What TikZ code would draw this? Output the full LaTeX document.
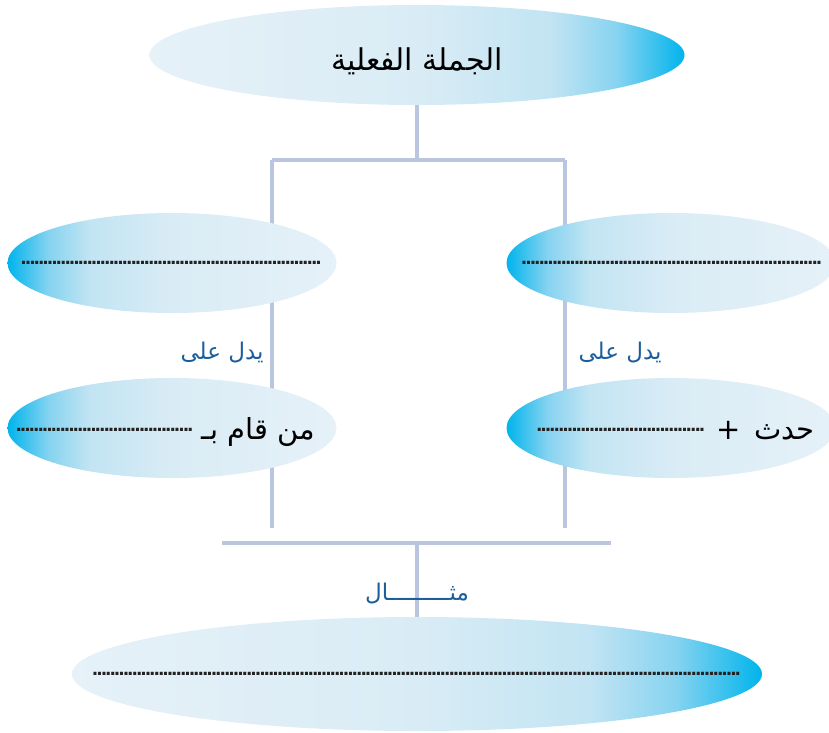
\documentclass[tikz,border=0pt]{standalone}
\usepackage{fontspec}
\usetikzlibrary{shapes.geometric,backgrounds}
\TeXXeTstate=1
\newfontfamily\arabicfont[Script=Arabic]{DejaVu Sans}
\definecolor{lite}{HTML}{E6F1F8}
\definecolor{midA}{HTML}{D9ECF5}
\definecolor{midB}{HTML}{C2E4F3}
\definecolor{midC}{HTML}{86D3F0}
\definecolor{cy}{HTML}{00B4EC}
\definecolor{linec}{HTML}{BAC5E0}
\definecolor{labc}{HTML}{1C5E9C}
\definecolor{dotc}{HTML}{222222}
\pgfdeclarehorizontalshading{toR}{100bp}{color(0bp)=(lite); color(25bp)=(lite); color(50bp)=(midA); color(62.5bp)=(midB); color(68.75bp)=(midC); color(75bp)=(cy); color(100bp)=(cy)}
\pgfdeclarehorizontalshading{toL}{100bp}{color(0bp)=(cy); color(25bp)=(cy); color(31.25bp)=(midC); color(37.5bp)=(midB); color(50bp)=(midA); color(75bp)=(lite); color(100bp)=(lite)}
\newcommand\dotsrow[1]{\hbox to #1{\arabicfont\bfseries\fontsize{17}{19}\selectfont\color{dotc}\leaders\hbox to 4.4pt{\hss.\hss}\hfill}}
\tikzset{
  ell/.style={ellipse, inner sep=0pt, shade},
  conn/.style={draw=linec, line width=3.5pt},
  lab/.style={text=labc, font=\arabicfont\fontsize{23}{26}\selectfont},
  big/.style={font=\arabicfont\fontsize{29}{32}\selectfont, text=black},
  txt/.style={inner sep=0pt}
}
\begin{document}
\begin{tikzpicture}[x=1pt,y=-1pt]
\useasboundingbox (0,0) rectangle (829,732);
% junction coordinates
\coordinate (j1) at (417,160);
\coordinate (jl) at (272,160);
\coordinate (jr) at (565,160);
\coordinate (el) at (272,528);
\coordinate (er) at (565,528);
\coordinate (bl) at (222,543);
\coordinate (br) at (611,543);
\coordinate (bm) at (417,543);
% ellipses (shapes)
\node[ell, shading=toR, minimum width=535pt, minimum height=100pt] (top) at (417,55) {};
\node[ell, shading=toL, minimum width=329pt, minimum height=100pt] (l1) at (172,263) {};
\node[ell, shading=toL, minimum width=329pt, minimum height=100pt] (r1) at (671,263) {};
\node[ell, shading=toL, minimum width=329pt, minimum height=100pt] (l2) at (172,428) {};
\node[ell, shading=toL, minimum width=329pt, minimum height=100pt] (r2) at (671,428) {};
\node[ell, shading=toR, minimum width=690pt, minimum height=114pt] (bot) at (417,674) {};
% texts inside ellipses
\node[txt, font=\arabicfont\fontsize{30}{34}\selectfont] (topt) at ([yshift=-6pt]top.center) {\beginR الجملة الفعلية\endR};
\node[txt, anchor=base] (l1t) at ([yshift=-1.5pt]l1.center) {\dotsrow{301pt}};
\node[txt, anchor=base] (r1t) at ([xshift=1pt,yshift=-1.5pt]r1.center) {\dotsrow{300pt}};
\node[txt, big, anchor=base east] (l2t) at (315,439) {\hbox{\raisebox{8pt}{\dotsrow{176pt}}\hskip 9pt\beginR من قام بـ\endR}};
\node[txt, big, anchor=base east] (r2t) at (815,439) {\hbox{\raisebox{8pt}{\dotsrow{170pt}}\hskip 9pt+\hskip 14pt\beginR حدث\endR}};
\node[txt, anchor=base] (bott) at ([yshift=-1.5pt]bot.center) {\dotsrow{648pt}};
% labels
\node[lab] (yl) at (222,353) {\beginR يدل على\endR};
\node[lab] (yr) at (620,353) {\beginR يدل على\endR};
\node[lab] (mi) at (417,593) {\beginR مثـــــــــال\endR};
% connectors behind ellipses
\begin{scope}[on background layer]
\draw[conn] (top.south) -- (j1);
\draw[conn] (jl) -- (jr);
\draw[conn] (jl) -- (el);
\draw[conn] (jr) -- (er);
\draw[conn] (bl) -- (br);
\draw[conn] (bm) -- (bot.north);
\end{scope}
\end{tikzpicture}
\end{document}
